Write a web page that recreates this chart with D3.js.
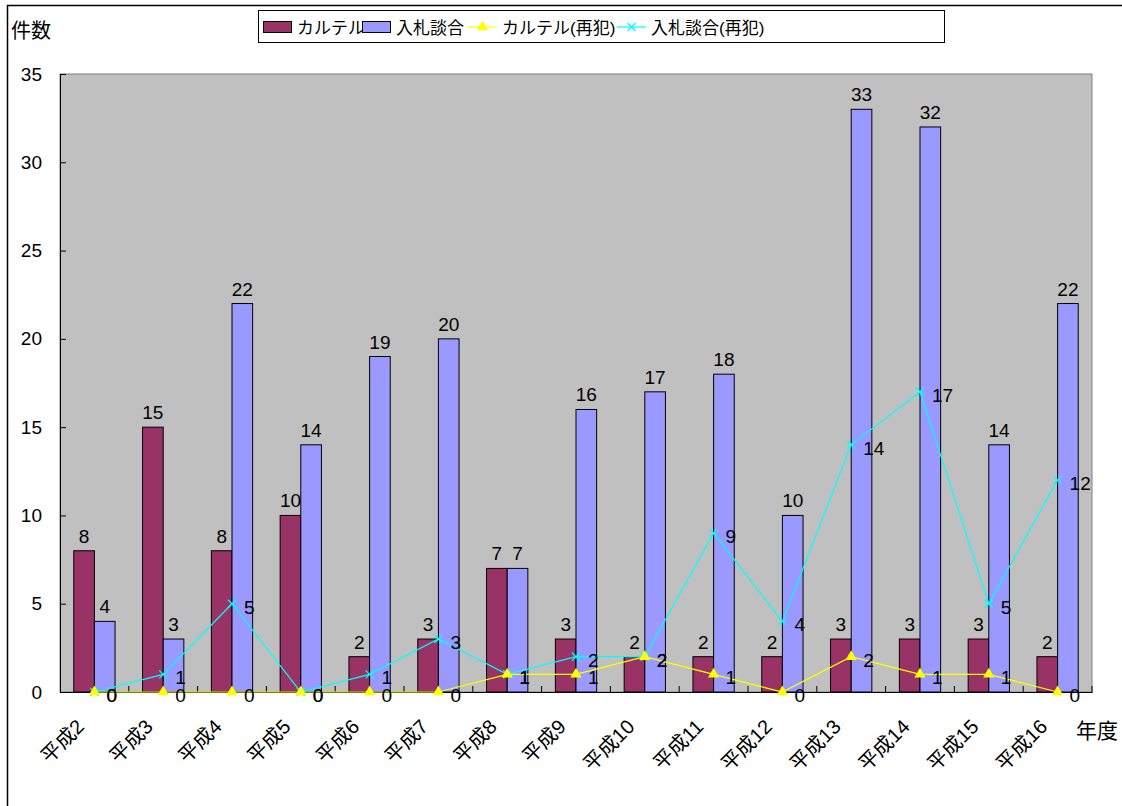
<!DOCTYPE html>
<html>
<head>
<meta charset="utf-8">
<script src="https://cdn.jsdelivr.net/npm/d3@7"></script>
<style>
  html, body { margin: 0; padding: 0; background: #fff; }
  svg { display: block; }
  text { font-family: "Liberation Sans", Arial, "Noto Sans CJK JP", sans-serif; fill: #000; }
</style>
</head>
<body>
<svg id="chart" width="1122" height="806"></svg>
<script>
// 年度別の件数
const years = ["平成2","平成3","平成4","平成5","平成6","平成7","平成8","平成9","平成10","平成11","平成12","平成13","平成14","平成15","平成16"];
const cartel = [8,15,8,10,2,3,7,3,2,2,2,3,3,3,2];
const bidRigging = [4,3,22,14,19,20,7,16,17,18,10,33,32,14,22];
const cartelRepeat = [0,0,0,0,0,0,1,1,2,1,0,2,1,1,0];
const bidRiggingRepeat = [0,1,5,0,1,3,1,2,2,9,4,14,17,5,12];
const yTicks = [0,5,10,15,20,25,30,35];
const seriesNames = ["カルテル","入札談合","カルテル(再犯)","入札談合(再犯)"];

const colors = { cartel: "#993366", bid: "#9999FF", cartelR: "#FFFF00", bidR: "#00FFFF", plot: "#C0C0C0" };

const svg = d3.select("#chart");
const plotL = 60, plotR = 1092, plotT = 74, plotB = 692;

// outer chart frame
svg.append("path")
  .attr("d", `M7.5,806 V5.5 H1122`)
  .attr("fill", "none").attr("stroke", "#000").attr("stroke-width", 1.5);

const x = d3.scaleBand().domain(years).range([plotL, plotR]).padding(0);
const bw = x.bandwidth();
const xInner = d3.scaleBand().domain(["c","b"]).range([bw * 0.2, bw * 0.8]).padding(0);
const y = d3.scaleLinear().domain([0, 35]).range([plotB, plotT]);

// plot area
svg.append("rect")
  .attr("x", plotL).attr("y", plotT).attr("width", plotR - plotL).attr("height", plotB - plotT)
  .attr("fill", colors.plot).attr("stroke", "#808080").attr("stroke-width", 1);

// y axis
const yAxis = svg.append("g").attr("transform", `translate(${plotL},0)`)
  .call(d3.axisLeft(y).tickValues(yTicks).tickSize(-6).tickPadding(18));
yAxis.select(".domain").attr("stroke", "#000");
yAxis.selectAll(".tick line").attr("stroke", "#000");
yAxis.selectAll(".tick text").attr("font-size", 19).attr("fill", "#000")
  .style("font-family", "'Liberation Sans', Arial, sans-serif");

// bars
const groups = svg.append("g").selectAll("g").data(years).join("g")
  .attr("transform", d => `translate(${x(d)},0)`);

groups.append("rect")
  .attr("x", xInner("c")).attr("width", xInner.bandwidth())
  .attr("y", (d, i) => y(cartel[i])).attr("height", (d, i) => y(0) - y(cartel[i]))
  .attr("fill", colors.cartel).attr("stroke", "#000").attr("stroke-width", 1);

groups.append("rect")
  .attr("x", xInner("b")).attr("width", xInner.bandwidth())
  .attr("y", (d, i) => y(bidRigging[i])).attr("height", (d, i) => y(0) - y(bidRigging[i]))
  .attr("fill", colors.bid).attr("stroke", "#000").attr("stroke-width", 1);

groups.append("text")
  .attr("x", xInner("c") + xInner.bandwidth() / 2)
  .attr("y", (d, i) => y(cartel[i]) - 8)
  .attr("text-anchor", "middle").attr("font-size", 19)
  .text((d, i) => cartel[i]);

groups.append("text")
  .attr("x", xInner("b") + xInner.bandwidth() / 2)
  .attr("y", (d, i) => y(bidRigging[i]) - 8)
  .attr("text-anchor", "middle").attr("font-size", 19)
  .text((d, i) => bidRigging[i]);

// x axis line and category boundary ticks
const xAxis = svg.append("g").attr("transform", `translate(0,${plotB})`)
  .call(d3.axisBottom(x).tickSize(0).tickPadding(0));
xAxis.select(".domain").attr("stroke", "#000");
xAxis.selectAll(".tick text").remove();
svg.append("g").selectAll("line").data(years).join("line")
  .attr("x1", d => x(d) + bw).attr("x2", d => x(d) + bw)
  .attr("y1", plotB).attr("y2", plotB - 6)
  .attr("stroke", "#000");

// category labels
svg.append("g").selectAll("text").data(years).join("text")
  .attr("transform", d => `translate(${x(d) + bw / 2 - 9},${plotB + 36}) rotate(-45)`)
  .attr("text-anchor", "end").attr("font-size", 20)
  .text(d => d);

const cx = d => x(d) + bw / 2;

// recidivism lines
function drawLine(values, color, marker) {
  const line = d3.line().x((d, i) => cx(years[i])).y(d => y(d));
  svg.append("path").datum(values)
    .attr("d", line).attr("fill", "none").attr("stroke", color).attr("stroke-width", 1.2);
  const g = svg.append("g");
  if (marker === "tri") {
    g.selectAll("path").data(values).join("path")
      .attr("transform", (d, i) => `translate(${cx(years[i])},${y(d)})`)
      .attr("d", d3.symbol().type(d3.symbolTriangle).size(55))
      .attr("fill", color);
  } else {
    g.selectAll("path").data(values).join("path")
      .attr("transform", (d, i) => `translate(${cx(years[i])},${y(d)})`)
      .attr("d", "M-4,-4L4,4M-4,4L4,-4")
      .attr("stroke", color).attr("stroke-width", 1.3).attr("fill", "none");
  }
  svg.append("g").selectAll("text").data(values).join("text")
    .attr("x", (d, i) => cx(years[i]) + 12)
    .attr("y", d => y(d) + 10)
    .attr("font-size", 19)
    .text(d => d);
}
drawLine(bidRiggingRepeat, colors.bidR, "x");
drawLine(cartelRepeat, colors.cartelR, "tri");

// axis titles
svg.append("text").attr("x", 11).attr("y", 38).attr("font-size", 20).text("件数");
svg.append("text").attr("x", 1076).attr("y", 738).attr("font-size", 21).text("年度");

// legend
const lg = svg.append("g");
lg.append("rect").attr("x", 258.5).attr("y", 10.5).attr("width", 686).attr("height", 32)
  .attr("fill", "#fff").attr("stroke", "#000");
const legendX = [263, 362, 468, 617];
const legendItems = [
  { name: seriesNames[0], kind: "bar", color: colors.cartel },
  { name: seriesNames[1], kind: "bar", color: colors.bid },
  { name: seriesNames[2], kind: "tri", color: colors.cartelR },
  { name: seriesNames[3], kind: "x", color: colors.bidR }
];
legendItems.forEach((it, i) => {
  const g = lg.append("g").attr("transform", `translate(${legendX[i]},27)`);
  if (it.kind === "bar") {
    g.append("rect").attr("x", 0.5).attr("y", -5.5).attr("width", 28).attr("height", 11)
      .attr("fill", it.color).attr("stroke", "#000");
  } else {
    g.append("line").attr("x1", 0).attr("x2", 29).attr("stroke", it.color).attr("stroke-width", 1.2);
    if (it.kind === "tri") {
      g.append("path").attr("transform", "translate(14.5,0)")
        .attr("d", d3.symbol().type(d3.symbolTriangle).size(55)).attr("fill", it.color);
    } else {
      g.append("path").attr("transform", "translate(14.5,0)")
        .attr("d", "M-4,-4L4,4M-4,4L4,-4").attr("stroke", it.color).attr("stroke-width", 1.3);
    }
  }
  g.append("text").attr("x", 34).attr("y", 7).attr("font-size", 17).text(it.name);
});
</script>
</body>
</html>
